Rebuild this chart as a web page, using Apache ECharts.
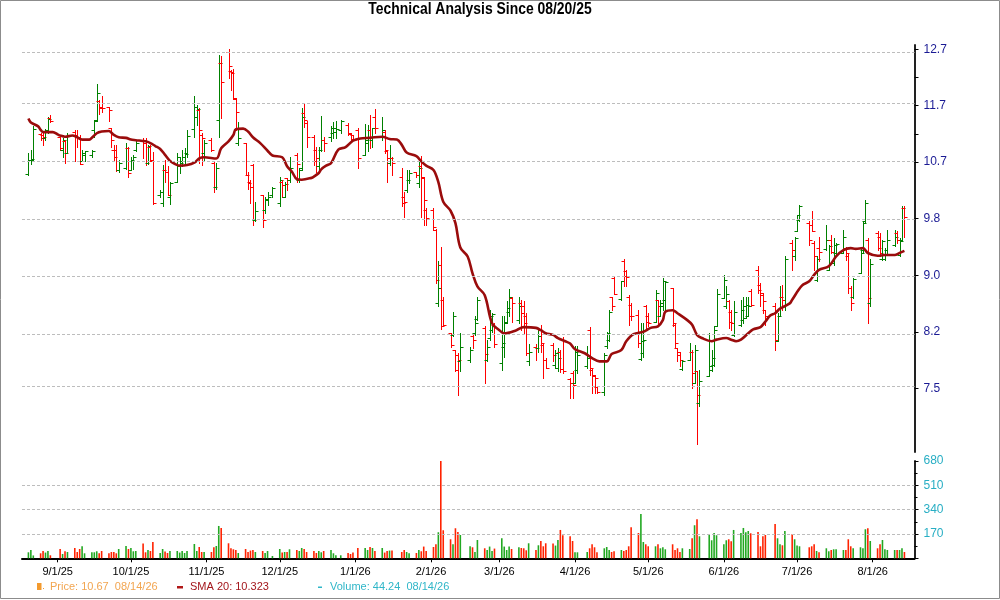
<!DOCTYPE html>
<html><head><meta charset="utf-8">
<script src="https://cdn.jsdelivr.net/npm/echarts@6/dist/echarts.min.js"></script>
<style>html,body{margin:0;padding:0;background:#fff}#c{width:1000px;height:600px}</style>
</head><body><div id="c"></div>
<script>
// ---------------- data ----------------
const startDate = '2025-08-20';
const endDate = '2026-08-14';
const holidays = ['2025-09-01','2025-11-27','2025-12-25','2026-01-01','2026-01-19','2026-02-16','2026-04-03','2026-05-25','2026-06-19','2026-07-03'];

const open = [
10.48,10.71,10.71, 11.15,11.14,11.08,11.22,11.44,
11.11,10.89,11.03,10.83,
11.20,11.14,11.11,10.69,10.80,
10.80,11.23,11.41,11.75,11.64,
11.63,11.26,10.89,10.89,10.55,
10.58,10.91,10.55,10.69,10.89,
11.06,11.03,10.66,10.94,10.69,
10.15,10.02,10.55,10.52,10.12,
10.36,10.61,10.69,10.77,10.83,
11.24,11.46,11.58,11.14,10.83,
11.06,10.66,10.28,11.41,12.46,
12.68,12.31,12.29,11.78,11.00,
11.00,10.47,10.36,10.63,9.76,
10.15,9.91,10.07,10.15,
10.02,10.36,10.12,10.42,10.39,
10.80,10.39,10.58,11.52,11.35,
11.11,10.89,10.61,10.89,11.06,
11.11,11.17,11.20,11.23,
11.32,11.16,11.14,11.23,
10.80,11.00,11.23,11.06,11.46,
11.11,11.20,10.87,10.66,10.74,
10.44,10.12,10.23,10.39,
10.51,10.33,10.61,10.42,9.91,
9.91,9.61,8.57,9.10,8.62,
8.18,8.16,7.97,7.91,7.83,
7.85,8.14,8.18,8.36,
8.25,7.85,8.12,8.22,8.29,
7.81,8.01,8.33,8.46,8.64,
8.35,8.57,8.53,8.40,7.83,
8.01,7.99,8.22,8.03,7.85,
8.03,7.79,7.75,7.95,8.11,
7.62,7.69,7.57,7.73,
7.77,8.22,7.73,7.65,7.52,
7.47,8.02,8.10,8.65,8.91,
8.63,9.16,9.01,8.66,8.55,
8.42,7.86,7.93,8.53,8.40,
8.33,8.62,8.41,8.53,8.62,
8.78,8.29,7.99,7.95,7.74,
7.85,7.95,7.57,7.71,7.34,
7.65,7.73,7.79,8.28,
8.64,8.53,8.60,8.46,8.16,
8.29,8.35,8.38,8.40,8.74,
9.03,8.82,8.68,8.48,
8.53,8.08,8.40,8.66,8.53,
9.41,9.22,9.60,9.76,
9.72,9.69,9.41,8.89,9.34,
9.33,9.03,9.46,9.12,9.27,
9.27,9.34,9.22,8.78,8.66,
8.99,9.31,9.74,9.46,8.57,
9.56,9.51,9.19,9.19,9.31,
9.39,9.56,9.24,9.46,9.94
];
const high = [
10.83,10.89,11.29, 11.17,11.20,11.24,11.46,11.49,
11.11,11.08,11.06,11.17,
11.23,11.23,11.14,10.89,10.87,
10.89,11.41,12.06,11.77,11.83,
11.64,11.27,10.97,10.97,10.72,
11.00,10.94,10.77,10.80,11.03,
11.08,11.08,10.97,10.97,10.85,
10.22,10.63,10.72,10.61,10.35,
10.83,10.77,10.89,10.91,11.23,
11.83,11.67,11.61,11.17,11.06,
11.08,10.69,10.67,12.62,12.59,
12.73,12.33,12.34,11.80,11.36,
11.00,10.52,10.39,10.65,10.04,
10.15,10.12,10.20,10.28,
10.44,10.39,10.35,10.42,10.77,
10.83,10.58,11.61,11.69,11.38,
11.14,10.94,10.94,11.48,11.11,
11.29,11.36,11.38,11.40,
11.35,11.17,11.14,11.26,
11.33,11.32,11.49,11.27,11.60,
11.46,11.22,10.89,10.97,10.76,
10.58,10.19,10.55,10.55,
10.52,10.74,10.78,10.44,9.94,
9.95,9.63,9.16,9.35,8.66,
8.18,8.46,7.97,7.93,8.18,
8.01,8.18,8.40,8.66,
8.27,8.10,8.48,8.44,8.31,
8.40,8.41,8.60,8.76,8.66,
8.66,8.62,8.60,8.44,8.04,
8.04,8.22,8.29,8.06,7.87,
8.06,7.97,7.99,7.97,8.13,
7.63,7.71,8.02,8.02,
8.02,8.26,7.75,7.67,7.53,
7.93,8.20,8.48,8.66,8.94,
8.88,9.18,9.03,8.68,8.57,
8.48,8.31,8.31,8.55,8.44,
8.75,8.62,8.62,8.91,8.87,
8.78,8.31,7.99,7.95,7.85,
8.06,7.97,8.03,7.71,7.73,
8.18,7.97,8.27,8.76,
8.96,8.80,8.62,8.48,8.60,
8.62,8.66,8.66,8.66,8.76,
9.08,8.84,8.71,8.48,
8.57,8.44,8.80,8.82,9.22,
9.46,9.51,9.84,9.99,
9.74,9.89,9.44,9.22,9.51,
9.69,9.39,9.54,9.49,9.41,
9.61,9.36,9.27,8.80,8.91,
9.36,9.74,10.07,9.49,9.19,
9.59,9.56,9.46,9.34,9.61,
9.61,9.59,9.49,9.97,9.97
];
const low = [
10.47,10.65,10.69, 11.06,10.97,11.06,11.17,11.36,
10.89,10.77,10.67,10.83,
10.69,10.94,10.65,10.69,10.69,
10.77,11.11,11.38,11.51,11.55,
11.38,10.94,10.69,10.54,10.52,
10.56,10.44,10.55,10.56,10.86,
10.74,10.63,10.65,10.69,10.00,
10.12,9.98,10.36,10.15,10.00,
10.36,10.50,10.62,10.66,10.77,
11.11,11.32,10.66,10.63,10.72,
10.86,10.20,10.24,11.11,11.44,
12.17,11.95,11.78,11.23,10.97,
10.47,10.24,10.02,9.69,9.74,
9.66,9.86,9.99,10.12,
9.97,10.12,10.11,10.23,10.36,
10.36,10.36,10.55,11.28,10.94,
10.63,10.52,10.52,10.86,10.86,
11.03,11.08,11.08,11.17,
11.14,11.03,11.06,10.58,
10.80,10.86,10.91,10.94,11.17,
11.06,10.83,10.36,10.63,10.47,
9.98,9.80,10.20,10.33,
10.44,10.28,9.81,9.69,9.69,
9.61,8.84,8.53,8.23,8.27,
8.01,8.14,7.71,7.43,7.71,
7.82,7.99,8.16,8.35,
7.57,7.84,8.10,8.20,8.01,
7.73,7.89,8.31,8.40,8.33,
8.31,8.22,8.18,7.91,7.79,
7.85,7.95,7.95,7.63,7.75,
7.83,7.75,7.71,7.70,7.69,
7.40,7.40,7.57,7.69,
7.75,7.67,7.45,7.45,7.45,
7.43,7.99,8.08,8.48,8.70,
8.62,8.80,8.80,8.29,8.35,
8.01,7.85,7.89,8.22,8.27,
8.32,8.29,8.40,8.48,8.48,
8.27,8.01,7.83,7.77,7.73,
7.85,7.51,7.57,6.88,7.30,
7.65,7.71,7.77,8.27,
8.64,8.51,8.25,8.22,8.14,
8.27,8.31,8.38,8.40,8.53,
8.71,8.53,8.44,8.29,
7.97,8.08,8.40,8.48,8.48,
9.03,9.17,9.59,9.74,
9.39,9.59,9.03,8.87,9.15,
9.32,9.03,9.27,9.10,9.24,
9.27,9.17,8.71,8.48,8.64,
8.98,9.29,9.71,8.31,8.53,
9.31,9.22,9.17,9.17,9.27,
9.37,9.41,9.22,9.45,9.51
];
const close = [
10.71,10.73,11.24, 11.08,11.11,11.22,11.42,11.38,
10.91,11.06,10.83,11.14,
11.11,11.08,10.65,10.83,10.86,
10.87,11.38,11.89,11.61,11.61,
11.58,11.06,10.77,10.55,10.66,
10.91,10.50,10.72,10.77,11.00,
11.00,10.66,10.95,10.72,10.02,
10.20,10.55,10.52,10.15,10.33,
10.77,10.66,10.77,10.81,11.13,
11.64,11.60,11.22,11.08,11.00,
10.89,10.28,10.58,12.46,12.09,
12.40,12.26,11.80,11.55,11.08,
10.47,10.33,10.28,9.76,9.90,
9.76,10.08,10.12,10.25,
10.39,10.31,10.32,10.39,10.58,
10.65,10.55,11.46,11.41,11.11,
10.69,10.74,10.89,11.06,11.00,
11.27,11.26,11.24,11.39,
11.17,11.07,11.06,10.74,
11.06,11.11,11.10,11.26,11.26,
11.23,10.89,10.74,10.75,10.67,
10.02,10.03,10.39,10.50,
10.47,10.58,10.44,10.07,9.79,
9.66,8.89,8.78,8.27,8.29,
8.03,8.40,7.73,7.85,8.01,
7.97,8.10,8.31,8.62,
7.92,8.01,8.40,8.43,8.05,
8.06,8.31,8.51,8.66,8.57,
8.53,8.44,8.31,7.93,7.95,
7.99,8.14,8.06,7.85,7.75,
7.91,7.93,7.87,7.74,7.71,
7.57,7.55,7.94,7.91,
7.87,7.75,7.67,7.63,7.47,
7.91,8.18,8.46,8.53,8.70,
8.88,8.94,8.93,8.40,8.40,
8.06,8.08,8.10,8.33,8.31,
8.71,8.53,8.57,8.87,8.86,
8.31,8.06,7.91,7.85,7.84,
7.95,7.69,7.97,7.43,7.59,
7.77,7.87,8.22,8.69,
8.89,8.69,8.33,8.31,8.46,
8.48,8.53,8.55,8.54,8.55,
8.75,8.71,8.60,8.40,
8.10,8.40,8.66,8.62,9.19,
9.31,9.49,9.84,9.97,
9.46,9.59,9.22,9.19,9.29,
9.46,9.37,9.29,9.39,9.40,
9.51,9.27,8.78,8.57,8.90,
9.27,9.71,10.02,8.64,9.11,
9.34,9.27,9.44,9.24,9.46,
9.51,9.46,9.44,9.94,9.81
];
const volume = [
42,58,20, 35,51,40,51,21,
65,30,49,44,
72,44,65,84,35,
42,42,49,35,51,
35,44,44,35,65,
86,65,72,49,51,
103,42,58,51,114,
37,65,47,37,51,
51,40,51,37,51,
100,51,79,44,44,
44,77,86,226,212,
105,70,63,58,37,
65,44,54,58,44,
51,37,51,16,
65,40,44,44,63,
58,51,72,65,44,
51,37,51,42,51,
58,35,21,21,
37,30,40,72,
72,58,79,72,51,
72,40,51,54,54,
44,58,44,35,
37,58,49,82,51,
79,98,182,680,196,
133,98,210,184,163,
84,77,44,128,
70,58,82,51,68,
140,82,58,82,65,
77,72,70,56,105,
58,91,121,84,105,
103,89,128,198,161,
154,121,42,42,
44,70,98,77,42,
70,79,58,44,49,
58,51,58,84,217,
177,310,114,98,84,
84,98,70,77,63,
98,58,70,44,70,
65,140,231,273,154,
163,126,177,161,
98,126,133,119,198,
177,212,182,191,175,
184,84,154,163,
240,140,98,91,191,
168,133,89,84,
77,84,98,51,42,
70,49,58,63,63,
58,58,133,84,70,
77,70,203,210,121,
70,98,128,63,58,
58,58,58,70,44.24
];

const smaDates = ['2025-08-20','2025-08-21','2025-08-24','2025-08-25','2025-08-26','2025-08-30','2025-09-01','2025-09-02','2025-09-04','2025-09-07','2025-09-09','2025-09-11','2025-09-14','2025-09-15','2025-09-17','2025-09-19','2025-09-22','2025-09-24','2025-09-26','2025-09-29','2025-10-01','2025-10-03','2025-10-07','2025-10-09','2025-10-11','2025-10-13','2025-10-15','2025-10-17','2025-10-19','2025-10-21','2025-10-24','2025-10-27','2025-10-29','2025-10-31','2025-11-05','2025-11-07','2025-11-10','2025-11-12','2025-11-13','2025-11-16','2025-11-18','2025-11-20','2025-11-23','2025-11-26','2025-11-28','2025-12-02','2025-12-04','2025-12-06','2025-12-08','2025-12-10','2025-12-14','2025-12-15','2025-12-17','2025-12-18','2025-12-20','2025-12-22','2025-12-25','2025-12-28','2025-12-31','2026-01-03','2026-01-07','2026-01-12','2026-01-15','2026-01-18','2026-01-20','2026-01-22','2026-01-26','2026-01-28','2026-01-30','2026-02-02','2026-02-04','2026-02-06','2026-02-09','2026-02-11','2026-02-13','2026-02-16','2026-02-18','2026-02-20','2026-02-23','2026-02-26','2026-03-01','2026-03-03','2026-03-08','2026-03-11','2026-03-16','2026-03-18','2026-03-20','2026-03-23','2026-03-25','2026-03-28','2026-03-30','2026-04-01','2026-04-05','2026-04-08','2026-04-11','2026-04-14','2026-04-16','2026-04-20','2026-04-22','2026-04-25','2026-04-29','2026-05-02','2026-05-05','2026-05-07','2026-05-08','2026-05-11','2026-05-13','2026-05-17','2026-05-19','2026-05-21','2026-05-23','2026-05-27','2026-05-29','2026-06-02','2026-06-04','2026-06-06','2026-06-08','2026-06-11','2026-06-13','2026-06-16','2026-06-18','2026-06-20','2026-06-22','2026-06-24','2026-06-28','2026-06-29','2026-07-03','2026-07-06','2026-07-08','2026-07-10','2026-07-14','2026-07-17','2026-07-20','2026-07-23','2026-07-25','2026-07-28','2026-07-30','2026-08-03','2026-08-06','2026-08-10','2026-08-12','2026-08-14'];
const smaValues = [11.43,11.36,11.29,11.23,11.19,11.19,11.15,11.13,11.11,11.13,11.10,11.06,11.06,11.09,11.17,11.20,11.21,11.14,11.10,11.09,11.06,11.05,11.03,11.00,10.95,10.90,10.80,10.70,10.65,10.62,10.63,10.67,10.74,10.76,10.74,10.91,11.03,11.14,11.24,11.25,11.20,11.10,11.00,10.87,10.79,10.76,10.61,10.52,10.40,10.39,10.42,10.44,10.50,10.56,10.62,10.66,10.89,10.93,11.04,11.08,11.09,11.11,11.07,11.06,10.97,10.84,10.78,10.69,10.62,10.55,10.35,10.04,9.90,9.71,9.35,9.22,8.98,8.80,8.68,8.31,8.22,8.18,8.22,8.26,8.25,8.22,8.18,8.16,8.12,8.08,8.05,7.98,7.93,7.87,7.83,7.83,7.92,7.97,8.08,8.17,8.20,8.25,8.27,8.35,8.46,8.48,8.44,8.35,8.29,8.16,8.12,8.08,8.10,8.12,8.10,8.08,8.10,8.18,8.23,8.26,8.33,8.41,8.44,8.50,8.57,8.62,8.81,8.87,8.96,9.03,9.08,9.22,9.31,9.34,9.33,9.34,9.27,9.23,9.24,9.24,9.27,9.30];

const priceTickValues = [7.51, 8.20, 8.955, 9.78, 10.68, 11.66, 12.73];
const priceTickLabels = ['7.5', '8.2', '9.0', '9.8', '10.7', '11.7', '12.7'];
const volumeTickValues = [170, 340, 510, 680];
const xTickDates = ['2025-09-01','2025-10-01','2025-11-01','2025-12-01','2026-01-01','2026-02-01','2026-03-01','2026-04-01','2026-05-01','2026-06-01','2026-07-01','2026-08-01'];
const xTickLabels = ['9/1/25','10/1/25','11/1/25','12/1/25','1/1/26','2/1/26','3/1/26','4/1/26','5/1/26','6/1/26','7/1/26','8/1/26'];

// ---------------- helpers ----------------
const DAY = 86400000;
function parseDay(s){ const p = s.split('-'); return Date.UTC(+p[0], +p[1]-1, +p[2]); }
function tradingDays(){
  const out = [];
  for (let t = parseDay(startDate); t <= parseDay(endDate); t += DAY) {
    const dt = new Date(t), wd = dt.getUTCDay();
    if (wd === 0 || wd === 6) continue;
    if (holidays.indexOf(dt.toISOString().slice(0,10)) >= 0) continue;
    out.push(t);
  }
  return out;
}
const days = tradingDays();
const L = Math.log;
const tickLn = priceTickValues.map(L);
const minorLn = [(tickLn[6]+tickLn[5])/2, (tickLn[5]+tickLn[4])/2];
const xTicks = xTickDates.map(parseDay);

const GREEN = '#008000', RED = '#ff0000';
const VGREEN = '#22a822', VRED = '#ff2200';

const ohlc = days.map((t,i) => [t, L(open[i]), L(high[i]), L(low[i]), L(close[i])]);
const vols = days.map((t,i) => ({ value: [t, volume[i]], itemStyle: { color: close[i] >= open[i] ? VGREEN : VRED } }));
const sma = smaDates.map((d,i) => [parseDay(d), L(smaValues[i])]);

const xMin = parseDay('2025-08-17') + 0.37*DAY;
const xMax = parseDay('2026-08-18') + 0.13*DAY;

function nearestLabel(v, vals, labels){
  let bi = 0, bd = Infinity;
  vals.forEach((x,i)=>{ const d = Math.abs(x - v); if (d < bd){ bd = d; bi = i; } });
  const tol = Math.max(1e-6, Math.abs(vals[bi]) * 1e-6);
  return bd <= tol ? labels[bi] : '';
}

const FONT = 'Liberation Sans, Arial, sans-serif';
const chart = echarts.init(document.getElementById('c'), null, { renderer: 'canvas' });
const option = {
  animation: false,
  backgroundColor: '#ffffff',
  grid: [
    { left: 22, right: 85.5, top: 45, bottom: 148 },
    { left: 22, right: 85.5, top: 461, bottom: 41.7 }
  ],
  xAxis: [
    { type: 'value', gridIndex: 0, min: xMin, max: xMax, scale: true,
      axisLine: { show: false }, axisTick: { show: false }, axisLabel: { show: false }, splitLine: { show: false } },
    { type: 'value', gridIndex: 1, min: xMin, max: xMax, scale: true,
      axisLine: { show: true, onZero: false, lineStyle: { color: '#000', width: 2 } },
      axisTick: { show: true, customValues: xTicks, length: 4, lineStyle: { color: '#000', width: 1 } },
      axisLabel: { customValues: xTicks, margin: 8, color: '#000', fontSize: 11, fontFamily: FONT,
        formatter: v => nearestLabel(v, xTicks, xTickLabels) },
      splitLine: { show: false } }
  ],
  yAxis: [
    { type: 'value', gridIndex: 0, position: 'right', min: L(6.80), max: L(12.815), scale: true,
      axisLine: { show: true, lineStyle: { color: '#222', width: 2 } },
      axisTick: { show: true, customValues: tickLn.concat(minorLn), length: 4, lineStyle: { color: '#000' } },
      axisLabel: { customValues: tickLn, margin: 9, color: '#1a1a94', fontSize: 12, fontFamily: FONT,
        formatter: v => nearestLabel(v, tickLn, priceTickLabels) },
      splitLine: { show: false } },
    { type: 'value', gridIndex: 1, position: 'right', min: 0, max: 680, interval: 170,
      axisLine: { show: true, lineStyle: { color: '#222', width: 2 } },
      axisTick: { show: true, length: 4, lineStyle: { color: '#000' } },
      minorTick: { show: true, splitNumber: 2, length: 3, lineStyle: { color: '#000' } },
      axisLabel: { margin: 9, color: '#28aec4', fontSize: 12, fontFamily: FONT,
        formatter: v => v === 0 ? '' : String(v) },
      splitLine: { show: false } }
  ],
  series: [
    { type: 'line', xAxisIndex: 0, yAxisIndex: 0, data: [], z: 1, silent: true,
      markLine: { silent: true, symbol: 'none', label: { show: false },
        lineStyle: { color: '#bdbdbd', type: [3, 2], width: 1 },
        data: tickLn.map(v => ({ yAxis: v })) } },
    { type: 'line', xAxisIndex: 1, yAxisIndex: 1, data: [], z: 1, silent: true,
      markLine: { silent: true, symbol: 'none', label: { show: false },
        lineStyle: { color: '#bdbdbd', type: [3, 2], width: 1 },
        data: volumeTickValues.filter(v => v < 680).map(v => ({ yAxis: v })) } },
    { type: 'custom', xAxisIndex: 0, yAxisIndex: 0, z: 2, silent: true,
      data: ohlc, encode: { x: 0, y: [1,2,3,4] },
      renderItem: function(params, api){
        const t = api.value(0);
        const o = api.coord([t, api.value(1)]), h = api.coord([t, api.value(2)]),
              l = api.coord([t, api.value(3)]), c = api.coord([t, api.value(4)]);
        const x = Math.round(h[0]) + 0.5;
        const col = api.value(4) >= api.value(1) ? GREEN : RED;
        const st = { stroke: col, lineWidth: 1 };
        const oy = Math.round(o[1]) + 0.5, cy = Math.round(c[1]) + 0.5;
        return { type: 'group', children: [
          { type: 'line', shape: { x1: x, y1: Math.round(h[1]), x2: x, y2: Math.round(l[1]) + 1 }, style: st },
          { type: 'line', shape: { x1: x - 3, y1: oy, x2: x, y2: oy }, style: st },
          { type: 'line', shape: { x1: x, y1: cy, x2: x + 3, y2: cy }, style: st }
        ]};
      } },
    { type: 'line', xAxisIndex: 0, yAxisIndex: 0, z: 3, silent: true, data: sma,
      showSymbol: false, smooth: 0.35,
      lineStyle: { color: '#9a0c0c', width: 2.6 } },
    { type: 'bar', xAxisIndex: 1, yAxisIndex: 1, z: 2, silent: true, data: vols, barWidth: 1.6 }
  ],
  graphic: [
    { type: 'rect', z: 100, shape: { x: 0.5, y: 0.5, width: 999, height: 598 }, style: { fill: 'none', stroke: '#8c8c8c', lineWidth: 1 } },
    { type: 'text', z: 100, x: 480, y: 10, scaleX: 0.87, style: { text: 'Technical Analysis Since 08/20/25', fill: '#000',
        fontSize: 16, fontWeight: 'bold', fontFamily: FONT,
        align: 'center', verticalAlign: 'middle' } },
    { type: 'rect', z: 100, shape: { x: 37, y: 583, width: 4.5, height: 7 }, style: { fill: '#f39a2e' } },
    { type: 'rect', z: 100, shape: { x: 43, y: 588, width: 1, height: 1 }, style: { fill: '#f39a2e' } },
    { type: 'text', z: 100, x: 50, y: 587, style: { text: 'Price: 10.67  08/14/26', fill: '#f2a550', fontSize: 11,
        fontFamily: FONT, verticalAlign: 'middle' } },
    { type: 'rect', z: 100, shape: { x: 177, y: 586, width: 6, height: 2.5 }, style: { fill: '#b01818' } },
    { type: 'text', z: 100, x: 190, y: 587, style: { text: 'SMA 20: 10.323', fill: '#a3161c', fontSize: 11,
        fontFamily: FONT, verticalAlign: 'middle' } },
    { type: 'rect', z: 100, shape: { x: 318, y: 586.5, width: 4, height: 1.5 }, style: { fill: '#2fb6c8' } },
    { type: 'text', z: 100, x: 330, y: 587, style: { text: 'Volume: 44.24  08/14/26', fill: '#2fb6c8', fontSize: 11,
        fontFamily: FONT, verticalAlign: 'middle' } }
  ]
};
chart.setOption(option);
</script>
</body></html>
